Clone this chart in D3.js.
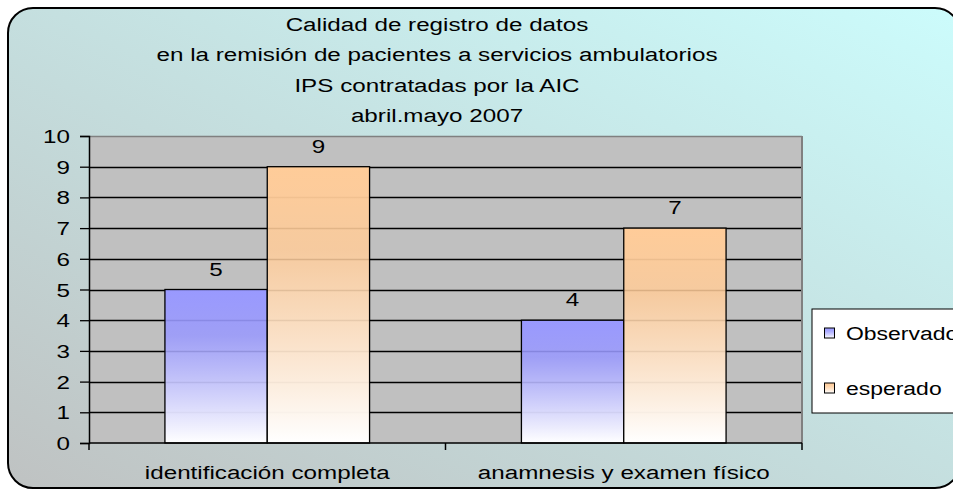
<!DOCTYPE html>
<html><head><meta charset="utf-8">
<script src="https://cdn.jsdelivr.net/npm/d3@7"></script>
<style>html,body{margin:0;padding:0;background:#fff;overflow:hidden}</style>
</head><body>
<script>
const titleLines = ["Calidad de registro de datos","en la remisión de pacientes a servicios ambulatorios","IPS contratadas por la AIC","abril.mayo 2007"];
const categories = ["identificación completa","anamnesis y examen físico"];
const seriesNames = ["Observado","esperado"];
const observado = [5,4];
const esperado = [9,7];
const yTicks = [0,1,2,3,4,5,6,7,8,9,10];

const W=953,H=489;
const FONT="'Liberation Sans', Arial, sans-serif";
const FS=19, SX=1.275;
const svg=d3.select("body").append("svg").attr("width",W).attr("height",H);
const defs=svg.append("defs");
const bg=defs.append("linearGradient").attr("id","bg").attr("x1","0%").attr("y1","100%").attr("x2","100%").attr("y2","0%");
bg.append("stop").attr("offset","0%").attr("stop-color","#bfc2c2");
bg.append("stop").attr("offset","45%").attr("stop-color","#c4dcdc");
bg.append("stop").attr("offset","100%").attr("stop-color","#ccfcfc");
const colors={Observado:"#9999ff",esperado:"#ffcc99"};
seriesNames.forEach((s,i)=>{
  const g=defs.append("linearGradient").attr("id","g"+i).attr("x1","0").attr("y1","0").attr("x2","0").attr("y2","1");
  g.append("stop").attr("offset","0%").attr("stop-color",colors[s]);
  g.append("stop").attr("offset","30%").attr("stop-color",colors[s]).attr("stop-opacity",0.85);
  g.append("stop").attr("offset","100%").attr("stop-color","#ffffff");
});

svg.append("rect").attr("x",8).attr("y",8).attr("width",952).attr("height",480).attr("rx",25).attr("ry",25)
  .attr("fill","url(#bg)").attr("stroke","#000").attr("stroke-width",2);

function stext(parent,x,y,txt,anchor,fs){
  const g=parent.append("g").attr("transform",`translate(${x},${y}) scale(${SX},1)`);
  g.append("text").attr("x",0).attr("y",0).attr("text-anchor",anchor||"middle")
    .attr("font-family",FONT).attr("font-size",fs||FS).attr("fill","#000").text(txt);
  return g;
}

titleLines.forEach((t,i)=>stext(svg,437,31+30.4*i,t));

const L=89,R=802,T=136,B=443;
const x0=d3.scaleBand().domain(categories).range([L,R]).padding(0);
const x1=d3.scaleBand().domain(seriesNames).range([0,x0.bandwidth()]).paddingInner(0).paddingOuter(0.742);
const y=d3.scaleLinear().domain([0,10]).range([B,T]);

svg.append("rect").attr("x",L).attr("y",T).attr("width",R-L).attr("height",B-T).attr("fill","#c0c0c0");
svg.append("g").selectAll("line").data(yTicks.filter(d=>d>0&&d<10)).join("line")
  .attr("x1",L).attr("x2",R).attr("y1",d=>Math.round(y(d))+0.5).attr("y2",d=>Math.round(y(d))+0.5)
  .attr("stroke","#000").attr("stroke-width",1.3);
svg.append("line").attr("x1",L).attr("x2",R).attr("y1",T+0.5).attr("y2",T+0.5).attr("stroke","#808080").attr("stroke-width",1.5);
svg.append("line").attr("x1",R).attr("x2",R).attr("y1",T).attr("y2",B).attr("stroke","#808080").attr("stroke-width",2);

const data=categories.map((c,i)=>({cat:c,vals:[{s:"Observado",v:observado[i]},{s:"esperado",v:esperado[i]}]}));
const grp=svg.append("g").selectAll("g").data(data).join("g").attr("transform",d=>`translate(${x0(d.cat)},0)`);
grp.selectAll("rect").data(d=>d.vals).join("rect")
  .attr("x",d=>x1(d.s)).attr("width",x1.bandwidth()).attr("y",d=>y(d.v)).attr("height",d=>y(0)-y(d.v))
  .attr("fill",(d)=>`url(#g${seriesNames.indexOf(d.s)})`).attr("stroke","#000").attr("stroke-width",1.3);
grp.each(function(d){
  const g=d3.select(this);
  d.vals.forEach(v=>stext(g,x1(v.s)+x1.bandwidth()/2,y(v.v)-14,String(v.v)));
});

const ya=d3.axisLeft(y).tickValues(yTicks).tickSize(9).tickFormat("");
svg.append("g").attr("transform",`translate(${L},0)`).call(ya).call(g=>{
  g.select(".domain").attr("stroke","#000").attr("stroke-width",1.5);
  g.selectAll(".tick line").attr("stroke","#000").attr("stroke-width",1.3);
});
yTicks.forEach(t=>stext(svg,70,y(t)+7,String(t),"end"));

svg.append("line").attr("x1",L).attr("x2",R).attr("y1",B).attr("y2",B).attr("stroke","#000").attr("stroke-width",1.5);
const bounds=[L,...categories.map(c=>x0(c)+x0.bandwidth())];
svg.append("g").selectAll("line").data(bounds).join("line")
  .attr("x1",d=>d).attr("x2",d=>d).attr("y1",B).attr("y2",B+7).attr("stroke","#000").attr("stroke-width",1.5);
categories.forEach(c=>stext(svg,x0(c)+x0.bandwidth()/2,479,c));

const lg=svg.append("g");
lg.append("rect").attr("x",812).attr("y",309).attr("width",160).attr("height",104).attr("fill","#fff").attr("stroke","#000").attr("stroke-width",1);
seriesNames.forEach((s,i)=>{
  const cy=[333,388][i];
  lg.append("rect").attr("x",824.5).attr("y",cy-5).attr("width",10).attr("height",10)
    .attr("fill",`url(#g${i})`).attr("stroke","#000").attr("stroke-width",1);
  stext(lg,846,cy+6.5,s,"start",18);
});
</script>
</body></html>
